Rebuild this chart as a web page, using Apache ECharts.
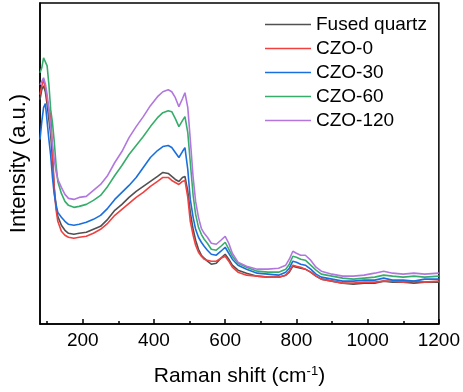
<!DOCTYPE html>
<html>
<head>
<meta charset="utf-8">
<script src="https://cdn.jsdelivr.net/npm/echarts@6/dist/echarts.min.js"></script>
<style>
  html, body { margin: 0; padding: 0; background: #fff; }
  #chart { width: 463px; height: 392px; }
</style>
</head>
<body>
<div id="chart"></div>
<script>
// Raman shift (cm-1) sampling points
var shift = [80, 85, 90, 95, 100, 105, 110, 115, 120, 125, 130, 140, 150, 160, 175, 190,
  210, 230, 250, 270, 290, 310, 330, 350, 370, 390, 410, 425, 440, 450, 460,
  470, 480, 487, 495, 502, 510, 517, 525, 533, 541, 550, 561, 575, 588, 600,
  610, 620, 636, 660, 690, 720, 750, 770, 780, 790, 800, 812, 825, 840, 855,
  870, 900, 930, 960, 990, 1020, 1045, 1070, 1100, 1130, 1160, 1200];

// intensities (a.u.)
var fusedQuartz = [225, 235, 239, 233, 220, 205, 190, 165, 137, 118, 108, 99, 94, 91, 90, 91,
  92, 95, 98, 105, 114, 120, 127, 133, 138, 143, 148, 152, 151, 148, 145,
  143, 147, 148, 133, 112, 95, 84, 75, 69, 66, 63, 60, 61, 66, 70,
  65, 59, 54, 51, 48, 47, 47, 49, 52, 58, 57, 56, 55, 52, 48,
  45, 43, 41, 40, 41, 41, 43, 42, 42, 41, 42, 42];
var czo0 = [230, 239, 245, 237, 225, 215, 210, 175, 135, 115, 103, 93, 89, 87, 86, 87,
  88, 91, 95, 101, 109, 115, 121, 127, 132, 138, 143, 147, 147, 144, 142,
  140, 143, 144, 127, 103, 89, 79, 72, 68, 65, 64, 63, 63, 66, 68,
  63, 57, 52, 49, 48, 47, 47, 49, 53, 59, 58, 57, 55, 52, 48,
  45, 43, 41, 41, 42, 42, 43, 43, 42, 43, 42, 43];
var czo30 = [185, 203, 217, 221, 203, 185, 169, 147, 130, 120, 112, 107, 103, 100, 99, 100,
  102, 105, 109, 116, 125, 132, 139, 147, 157, 167, 174, 178, 179, 177, 172,
  167, 173, 177, 155, 125, 107, 95, 87, 82, 78, 74, 70, 69, 73, 77,
  71, 65, 59, 55, 51, 50, 49, 52, 56, 63, 62, 60, 59, 55, 50,
  47, 45, 43, 43, 44, 44, 46, 44, 44, 43, 45, 45];
var czo60 = [252, 257, 267, 265, 259, 240, 215, 202, 183, 160, 143, 131, 123, 119, 117, 118,
  120, 124, 129, 138, 149, 159, 170, 179, 188, 198, 207, 212, 214, 213, 206,
  198, 204, 208, 192, 162, 129, 110, 97, 90, 85, 81, 75, 74, 78, 82,
  75, 68, 61, 57, 53, 52, 52, 55, 60, 68, 67, 65, 64, 59, 54,
  50, 48, 46, 45, 46, 47, 49, 48, 47, 48, 47, 48];
var czo120 = [240, 242, 247, 241, 230, 215, 197, 180, 165, 153, 145, 137, 130, 126, 125, 127,
  128, 134, 140, 149, 162, 173, 187, 198, 208, 219, 228, 233, 235, 233, 227,
  218, 226, 232, 217, 185, 147, 123, 107, 96, 91, 87, 81, 80, 84, 88,
  81, 71, 62, 58, 55, 55, 56, 59, 65, 73, 71, 69, 69, 64, 57,
  53, 50, 48, 48, 49, 51, 53, 51, 50, 51, 50, 51];

var majorTicks = [200, 400, 600, 800, 1000, 1200];
var minorTicks = [100, 300, 500, 700, 900, 1100];

var names = ["Fused quartz", "CZO-0", "CZO-30", "CZO-60", "CZO-120"];
var colors = ["#515151", "#F14040", "#1A6FDF", "#37AD6B", "#B177DE"];
var spectra = [fusedQuartz, czo0, czo30, czo60, czo120];

var font = 'Arial, "Liberation Sans", sans-serif';

var chart = echarts.init(document.getElementById("chart"));

var series = [];
spectra.map(function (vals, i) {
  series.push({
    type: "line",
    name: names[i],
    data: shift.map(function (x, j) { return [x, vals[j]]; }),
    showSymbol: false,
    symbol: "none",
    lineStyle: { width: 1.6, color: colors[i] },
    itemStyle: { color: colors[i] }
  });
});

var option = {
  animation: false,
  grid: {
    left: 36, right: 23, top: 3, bottom: 67,
    show: true, borderColor: "#000", borderWidth: 1.5
  },
  legend: {
    orient: "vertical",
    left: 260,
    top: 9,
    icon: "rect",
    itemWidth: 46,
    itemHeight: 1.6,
    itemGap: 3,
    data: names,
    textStyle: { fontFamily: font, fontSize: 19, color: "#000", lineHeight: 21 }
  },
  xAxis: [
    {
      type: "value",
      min: 80,
      max: 1200,
      name: "{a|Raman shift (cm}{s|-1}{a|)}",
      nameLocation: "middle",
      nameGap: 41,
      nameTextStyle: {
        rich: {
          a: { fontFamily: font, fontSize: 21, color: "#000" },
          s: { fontFamily: font, fontSize: 13, color: "#000", padding: [0, 0, 10, 0] }
        }
      },
      splitLine: { show: false },
      axisLine: { lineStyle: { color: "#000", width: 1.5 } },
      axisTick: { inside: true, length: 5, customValues: majorTicks, lineStyle: { color: "#000", width: 1.5 } },
      axisLabel: {
        customValues: majorTicks, margin: 7, fontFamily: font, fontSize: 19, color: "#000",
        formatter: function (v) { return String(v); }
      }
    },
    {
      type: "value",
      min: 80,
      max: 1200,
      position: "bottom",
      splitLine: { show: false },
      axisLine: { show: false },
      axisTick: { inside: true, length: 3, customValues: minorTicks, lineStyle: { color: "#000", width: 1.5 } },
      axisLabel: { show: false }
    }
  ],
  yAxis: {
    type: "value",
    min: 0,
    max: 322,
    name: "Intensity (a.u.)",
    nameLocation: "middle",
    nameGap: 10,
    nameTextStyle: { fontFamily: font, fontSize: 22, color: "#000" },
    splitLine: { show: false },
    axisTick: { show: false },
    axisLabel: { show: false },
    axisLine: { show: true, lineStyle: { color: "#000", width: 1.5 } }
  },
  series: series
};

chart.setOption(option);
</script>
</body>
</html>
